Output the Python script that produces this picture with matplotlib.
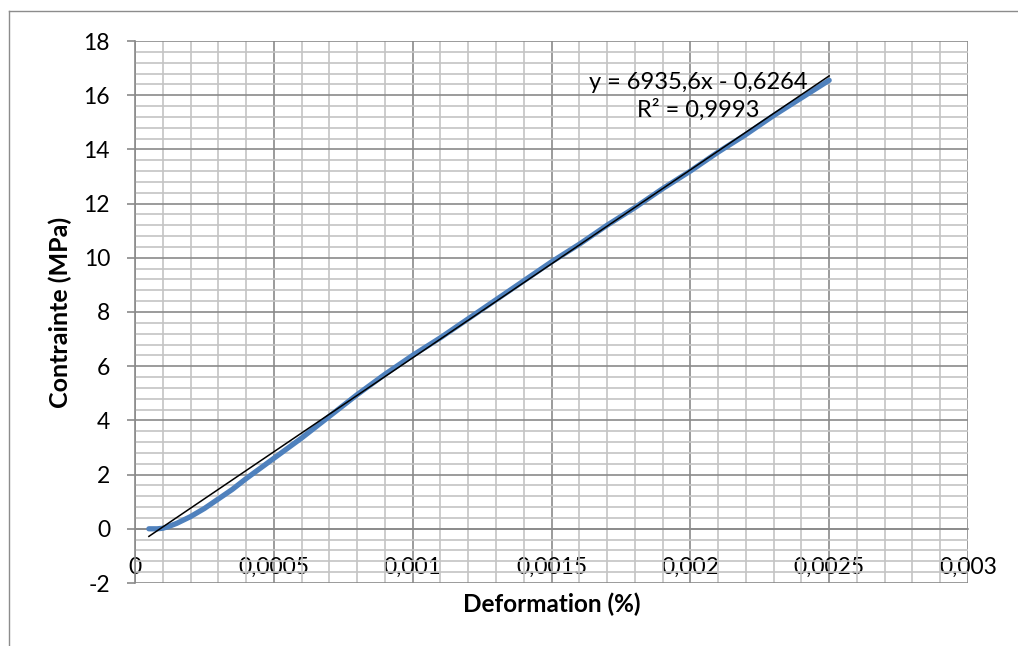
import matplotlib
matplotlib.use("Agg")
import matplotlib.pyplot as plt
from matplotlib.ticker import MultipleLocator, FixedLocator, FixedFormatter
from matplotlib.lines import Line2D

# mesures (deformation, contrainte)
deformation = [0.00005, 0.00008, 0.0001, 0.00012, 0.00015, 0.0002, 0.00025, 0.0003,
               0.00035, 0.0004, 0.0005, 0.0006, 0.0007, 0.0008, 0.0009, 0.001,
               0.0011, 0.0012, 0.0013, 0.0014, 0.0015, 0.0016, 0.0017, 0.0018,
               0.0019, 0.002, 0.0021, 0.0022, 0.0023, 0.0024, 0.0025]
contrainte = [0, 0, 0.02, 0.08, 0.2, 0.45, 0.75, 1.1,
              1.45, 1.85, 2.6, 3.35, 4.15, 4.95, 5.7, 6.4,
              7.05, 7.75, 8.45, 9.15, 9.85, 10.5, 11.2, 11.85,
              12.55, 13.2, 13.9, 14.55, 15.25, 15.9, 16.55]

# courbe de tendance lineaire
pente = 6935.6
ordonnee = -0.6264
r2 = 0.9993

x_ticks = [0, 0.0005, 0.001, 0.0015, 0.002, 0.0025, 0.003]
x_labels = ["0", "0,0005", "0,001", "0,0015", "0,002", "0,0025", "0,003"]
y_ticks = [-2, 0, 2, 4, 6, 8, 10, 12, 14, 16, 18]
y_labels = [str(v) for v in y_ticks]

plt.rcParams['font.family'] = ['Lato', 'DejaVu Sans']

W, H = 1018, 646
fig = plt.figure(figsize=(W / 100, H / 100), dpi=100)
ax = fig.add_axes([135 / W, 1 - 583 / H, 833 / W, 542 / H])

major_c = '#8a8a8a'
minor_c = '#c4c4c4'

ax.set_xlim(0, 0.003)
ax.set_ylim(-2, 18)
ax.xaxis.set_major_locator(FixedLocator(x_ticks))
ax.xaxis.set_major_formatter(FixedFormatter(x_labels))
ax.yaxis.set_major_locator(FixedLocator(y_ticks))
ax.yaxis.set_major_formatter(FixedFormatter(y_labels))
ax.xaxis.set_minor_locator(MultipleLocator(0.0001))
ax.yaxis.set_minor_locator(MultipleLocator(0.4))

ax.grid(which='minor', color=minor_c, linewidth=1.2, zorder=0)
ax.grid(which='major', color=major_c, linewidth=1.2, zorder=0)
ax.set_axisbelow(True)

for s in ['top', 'right']:
    ax.spines[s].set_visible(False)
ax.spines['left'].set_color(major_c)
ax.spines['left'].set_linewidth(1.2)
ax.spines['bottom'].set_position(('data', 0))
ax.spines['bottom'].set_color(major_c)
ax.spines['bottom'].set_linewidth(1.2)

ax.tick_params(axis='y', which='major', direction='out', length=6, width=1.2,
               color=major_c, pad=12, labelsize=16.5)
ax.tick_params(axis='x', which='major', length=0, pad=20, labelsize=16.5)
ax.tick_params(which='minor', length=0)

ax.plot(deformation, contrainte, color='#4f81bd', linewidth=3.8,
        solid_capstyle='round', zorder=3)
xt = [deformation[0], deformation[-1]]
ax.plot(xt, [pente * v + ordonnee for v in xt], color='black', linewidth=1.1, zorder=4)

eq = "y = 6935,6x - 0,6264\nR² = 0,9993"
ax.text(0.00203, 15.95, eq, ha='center', va='center', multialignment='center',
        fontsize=17, linespacing=1.3, zorder=5)

ax.set_xlabel("Deformation (%)", fontsize=17.5, fontweight='bold')
ax.xaxis.set_label_coords(0.5, -0.017)
ax.set_ylabel("Contrainte (MPa)", fontsize=18, fontweight='bold')
ax.yaxis.set_label_coords(-0.076, 0.5)

# cadre du graphique
fig.add_artist(Line2D([9 / W, 9 / W], [0, 1 - 11 / H], color='#8c8c8c', linewidth=1.0))
fig.add_artist(Line2D([9 / W, 1], [1 - 11 / H, 1 - 11 / H], color='#8c8c8c', linewidth=1.0))

fig.savefig("out.png", dpi=100)
